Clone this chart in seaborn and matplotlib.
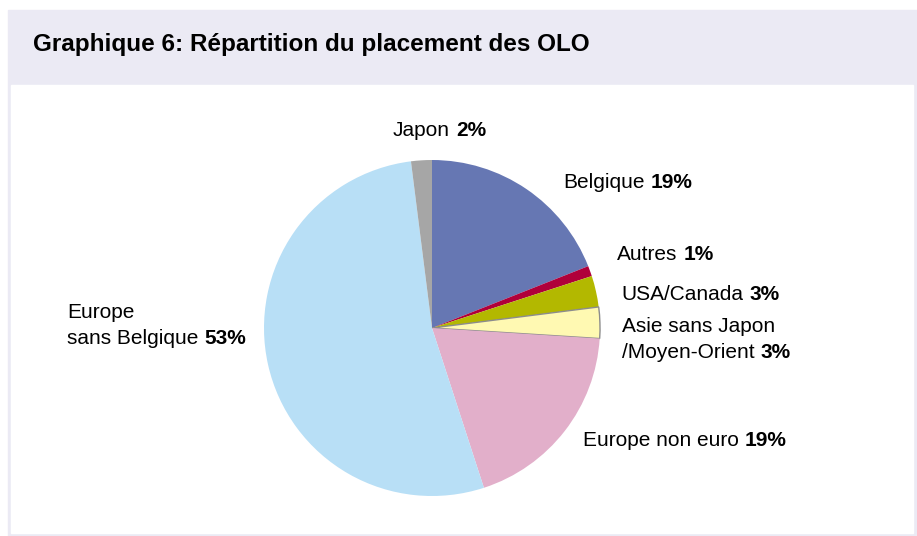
import matplotlib.pyplot as plt
import matplotlib.patches as mpatches
import seaborn as sns

# Data
categories = ['Belgique', 'Autres', 'USA/Canada', 'Asie sans Japon\n/Moyen-Orient',
              'Europe non euro', 'Europe\nsans Belgique', 'Japon']
shares = [19, 1, 3, 3, 19, 53, 2]
pct_labels = ['19%', '1%', '3%', '3%', '19%', '53%', '2%']
colors = ['#6677b3', '#b0003a', '#b3b800', '#fff9b2', '#e2afca', '#b8dff6', '#a6a6a6']

# label anchor (image pixels: left x, centre y of first line)
label_pos = [(563, 182), (617, 254), (621, 294), (622, 327),
             (583, 440), (67, 313), (393, 131)]

sns.set_theme(style='white')
plt.rcParams['font.family'] = ['Liberation Sans', 'DejaVu Sans']

W, H = 917, 536
fig = plt.figure(figsize=(W / 100, H / 100), dpi=100, facecolor='white')
ax = fig.add_axes([0, 0, 1, 1])

# background frame: lavender band + white panel
lav = '#ebeaf4'
ax.add_patch(mpatches.Rectangle((8, 0), W - 8, H - 10, color=lav, zorder=0))
ax.add_patch(mpatches.Rectangle((11, 3), 913 - 11, 533 - 85, color='white', zorder=0))

wedges, _ = ax.pie(shares, colors=colors, startangle=90, counterclock=False,
                   center=(432, H - 328), radius=168,
                   wedgeprops=dict(linewidth=0))
wedges[3].set_edgecolor('#8c8c8c')
wedges[3].set_linewidth(1)

fs = 15
line_h = 26
for name, pct, (x, y) in zip(categories, pct_labels, label_pos):
    lines = name.split('\n')
    t = None
    for i, ln in enumerate(lines):
        t = ax.text(x, H - (y + i * line_h), ln, fontsize=fs, ha='left', va='center',
                    color='black')
    ax.annotate(pct, xy=(1, 0), xycoords=t, xytext=(4.5, 0), textcoords='offset points',
                ha='left', va='bottom', fontsize=fs, fontweight='bold', color='black')

ax.text(33, H - 45, 'Graphique 6: Répartition du placement des OLO', fontsize=17.5,
        fontweight='bold', ha='left', va='center', color='black')

ax.set_xlim(0, W)
ax.set_ylim(0, H)
ax.set_axis_off()

fig.savefig('out.png', dpi=100, facecolor='white')
